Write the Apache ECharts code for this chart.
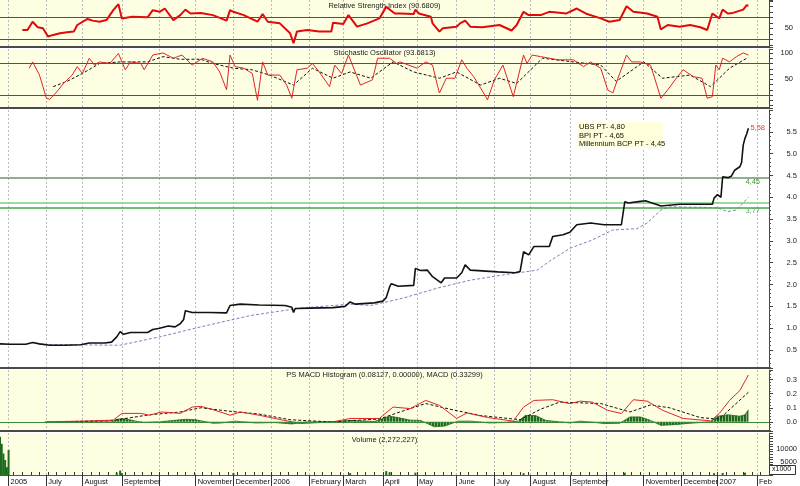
<!DOCTYPE html>
<html><head><meta charset="utf-8">
<script src="https://cdn.jsdelivr.net/npm/echarts@6/dist/echarts.min.js"></script>
<style>html,body{margin:0;padding:0;background:#fff}#c{width:800px;height:486px}</style>
</head><body><div id="c"></div>
<script>
// ---------------- DATA ----------------
const firstSession = '2005-05-25';
const lastSession = '2007-02-12';

const tickMonths = ['2005-06','2005-07','2005-08','2005-09','2005-10','2005-11','2005-12','2006-01','2006-02','2006-03','2006-04','2006-05','2006-06','2006-07','2006-08','2006-09','2006-10','2006-11','2006-12','2007-01','2007-02'];
const tickLabels = ['2005','July','August','September','','November','December','2006','February','March','April','May','June','July','August','September','','November','December','2007','Feb'];

const priceDates = ['2005-05-25','2005-06-02','2005-06-15','2005-06-21','2005-06-27','2005-07-05','2005-07-18','2005-07-29','2005-08-05','2005-08-18','2005-08-24','2005-08-29','2005-08-31','2005-09-02','2005-09-08','2005-09-22','2005-09-27','2005-10-03','2005-10-10','2005-10-14','2005-10-19','2005-10-21','2005-10-24','2005-10-28','2005-11-11','2005-11-25','2005-11-29','2005-12-07','2005-12-22','2006-01-12','2006-01-18','2006-01-19','2006-01-20','2006-02-02','2006-02-21','2006-03-02','2006-03-07','2006-03-10','2006-03-27','2006-04-03','2006-04-05','2006-04-07','2006-04-10','2006-04-14','2006-04-27','2006-04-28','2006-05-03','2006-05-09','2006-05-12','2006-05-19','2006-05-23','2006-06-01','2006-06-06','2006-06-08','2006-06-13','2006-07-05','2006-07-19','2006-07-24','2006-07-26','2006-07-31','2006-08-03','2006-08-16','2006-08-18','2006-08-28','2006-09-01','2006-09-07','2006-09-19','2006-09-29','2006-10-13','2006-10-17','2006-10-19','2006-10-27','2006-11-02','2006-11-07','2006-11-13','2006-11-15','2006-11-30','2006-12-18','2006-12-27','2006-12-28','2007-01-01','2007-01-03','2007-01-04','2007-01-09','2007-01-11','2007-01-15','2007-01-18','2007-01-19','2007-01-22','2007-01-23','2007-01-24','2007-01-25'];
const priceValues = [0.64,0.63,0.63,0.67,0.64,0.61,0.61,0.62,0.66,0.66,0.68,0.80,0.92,0.86,0.90,0.90,0.97,1.00,1.05,1.03,1.10,1.20,1.40,1.36,1.36,1.35,1.52,1.55,1.53,1.52,1.48,1.36,1.45,1.46,1.47,1.50,1.60,1.55,1.58,1.62,1.70,1.95,2.02,1.96,1.98,2.37,2.32,2.33,2.18,2.04,2.15,2.15,2.27,2.45,2.33,2.29,2.27,2.30,2.75,2.68,2.87,2.87,3.10,3.14,3.20,3.37,3.41,3.37,3.37,3.90,3.87,3.90,3.92,3.88,3.83,3.80,3.84,3.84,3.84,3.98,4.06,4.00,4.47,4.45,4.48,4.62,4.70,4.79,5.20,5.35,5.45,5.58];

const maDates = ['2005-06-27','2005-08-23','2005-08-31','2005-10-03','2005-11-04','2005-12-15','2006-01-25','2006-03-07','2006-03-23','2006-04-19','2006-05-17','2006-06-13','2006-07-10','2006-08-07','2006-08-16','2006-09-01','2006-09-20','2006-10-06','2006-10-26','2006-11-03','2006-11-15','2006-11-22','2006-12-18','2007-01-01','2007-01-09','2007-01-16','2007-01-22','2007-01-25'];
const maValues = [0.63,0.61,0.61,0.80,1.03,1.29,1.46,1.55,1.52,1.69,1.92,2.10,2.22,2.33,2.53,2.83,3.02,3.25,3.28,3.41,3.71,3.78,3.77,3.76,3.67,3.71,3.87,4.00];

const rsiDates = ['2005-06-13','2005-06-16','2005-06-21','2005-06-24','2005-06-29','2005-07-04','2005-07-07','2005-07-13','2005-07-19','2005-07-25','2005-07-27','2005-08-04','2005-08-09','2005-08-15','2005-08-19','2005-08-25','2005-08-30','2005-09-01','2005-09-09','2005-09-22','2005-09-27','2005-10-03','2005-10-06','2005-10-13','2005-10-19','2005-10-24','2005-10-27','2005-11-04','2005-11-15','2005-11-25','2005-11-29','2005-12-01','2005-12-09','2005-12-21','2005-12-26','2005-12-29','2006-01-09','2006-01-17','2006-01-19','2006-01-23','2006-01-31','2006-02-09','2006-02-20','2006-02-21','2006-03-01','2006-03-06','2006-03-13','2006-03-21','2006-03-30','2006-04-05','2006-04-12','2006-04-17','2006-04-27','2006-04-28','2006-05-02','2006-05-11','2006-05-12','2006-05-18','2006-05-22','2006-06-01','2006-06-05','2006-06-08','2006-06-13','2006-06-22','2006-07-06','2006-07-17','2006-07-20','2006-07-26','2006-07-31','2006-08-09','2006-08-16','2006-08-30','2006-09-07','2006-09-15','2006-09-27','2006-10-04','2006-10-12','2006-10-18','2006-10-24','2006-11-03','2006-11-13','2006-11-15','2006-11-21','2006-11-30','2006-12-08','2006-12-18','2006-12-22','2006-12-27','2007-01-02','2007-01-04','2007-01-09','2007-01-12','2007-01-22','2007-01-24','2007-01-25'];
const rsiValues = [47,47,62,52,50,35,38,41,43,44,56,67,64,62,65,83,94,68,71,70,83,80,86,65,74,84,77,78,74,64,83,80,74,62,76,62,59,41,23,44,47,44,44,60,58,74,53,59,68,89,77,77,76,84,77,71,59,44,50,53,59,64,53,52,56,46,56,80,74,74,80,77,86,76,68,62,65,90,80,77,71,48,56,53,56,52,47,77,68,84,77,78,84,92,91];

const stochKDates = ['2005-06-17','2005-06-21','2005-06-27','2005-07-01','2005-07-05','2005-07-11','2005-07-15','2005-07-22','2005-07-27','2005-08-01','2005-08-05','2005-08-10','2005-08-15','2005-08-23','2005-08-30','2005-09-05','2005-09-08','2005-09-16','2005-09-20','2005-09-27','2005-10-05','2005-10-13','2005-10-20','2005-10-28','2005-11-07','2005-11-15','2005-11-21','2005-11-25','2005-11-29','2005-12-02','2005-12-09','2005-12-16','2005-12-21','2005-12-26','2005-12-29','2006-01-09','2006-01-13','2006-01-18','2006-01-23','2006-01-31','2006-02-03','2006-02-09','2006-02-17','2006-02-22','2006-02-28','2006-03-06','2006-03-15','2006-03-24','2006-03-29','2006-04-07','2006-04-13','2006-04-17','2006-05-01','2006-05-08','2006-05-12','2006-05-17','2006-05-18','2006-05-24','2006-05-31','2006-06-06','2006-06-09','2006-06-15','2006-06-26','2006-06-27','2006-07-03','2006-07-10','2006-07-18','2006-07-26','2006-07-28','2006-08-02','2006-08-09','2006-08-23','2006-09-05','2006-09-13','2006-09-19','2006-09-27','2006-10-03','2006-10-06','2006-10-12','2006-10-18','2006-10-23','2006-10-30','2006-11-07','2006-11-15','2006-11-21','2006-11-28','2006-12-04','2006-12-12','2006-12-19','2006-12-22','2006-12-27','2006-12-29','2007-01-02','2007-01-04','2007-01-10','2007-01-16','2007-01-22','2007-01-25'];
const stochKValues = [71,83,58,14,12,26,42,58,74,61,90,77,83,80,99,68,83,80,68,96,100,90,96,77,90,83,64,30,96,74,71,61,10,83,58,58,39,14,68,71,80,64,36,77,61,96,39,49,90,90,80,83,71,83,77,36,24,52,52,87,71,55,17,11,49,77,17,96,80,96,93,87,87,74,83,71,30,24,61,96,83,83,77,14,30,52,68,55,52,14,17,77,68,90,83,93,100,96];

const stochDDates = ['2005-07-07','2005-07-19','2005-08-01','2005-08-15','2005-08-31','2005-09-22','2005-10-05','2005-10-19','2005-11-04','2005-11-15','2005-12-01','2005-12-16','2005-12-30','2006-01-19','2006-02-03','2006-02-21','2006-03-07','2006-03-23','2006-04-11','2006-04-27','2006-05-18','2006-06-01','2006-06-21','2006-07-06','2006-07-20','2006-08-10','2006-09-05','2006-09-27','2006-10-10','2006-11-01','2006-11-16','2006-12-08','2006-12-26','2007-01-10','2007-01-24'];
const stochDValues = [36,46,61,80,83,83,93,88,88,80,71,68,58,39,71,52,64,52,83,64,52,64,39,52,42,90,83,77,46,83,52,58,36,71,90];

const macdDates = ['2005-07-01','2005-07-29','2005-08-25','2005-09-01','2005-09-16','2005-09-23','2005-10-04','2005-10-19','2005-10-28','2005-11-04','2005-11-15','2005-11-29','2005-12-07','2005-12-22','2006-01-11','2006-01-25','2006-02-21','2006-03-07','2006-03-30','2006-04-11','2006-04-25','2006-05-08','2006-05-18','2006-06-01','2006-06-09','2006-06-27','2006-07-18','2006-07-26','2006-08-03','2006-08-18','2006-09-01','2006-09-11','2006-09-20','2006-10-03','2006-10-13','2006-10-24','2006-11-03','2006-11-16','2006-12-04','2006-12-26','2007-01-02','2007-01-10','2007-01-18','2007-01-25'];
const macdValues = [0.0,0.005,0.012,0.06,0.06,0.047,0.07,0.06,0.105,0.11,0.087,0.047,0.07,0.047,0.012,-0.012,0.0,0.024,0.024,0.105,0.094,0.152,0.117,0.024,0.063,0.031,0.005,0.105,0.152,0.157,0.129,0.147,0.14,0.082,0.059,0.157,0.147,0.082,0.024,0.007,0.059,0.152,0.222,0.333];

const signalDates = ['2005-07-13','2005-08-23','2005-09-01','2005-09-23','2005-10-19','2005-11-04','2005-11-29','2005-12-22','2006-01-17','2006-02-17','2006-03-30','2006-04-17','2006-05-08','2006-05-26','2006-06-21','2006-07-24','2006-08-09','2006-08-24','2006-09-27','2006-10-20','2006-11-07','2006-11-22','2006-12-18','2007-01-02','2007-01-25'];
const signalValues = [0.0,0.008,0.02,0.05,0.07,0.10,0.075,0.055,0.015,0.0,0.02,0.07,0.13,0.09,0.045,0.015,0.09,0.14,0.13,0.07,0.12,0.10,0.03,0.02,0.21];

const histDates = ['2005-06-30','2005-08-24','2005-08-30','2005-09-05','2005-09-13','2005-09-20','2005-10-03','2005-10-24','2005-11-01','2005-11-15','2005-11-22','2005-12-02','2005-12-20','2006-01-04','2006-01-18','2006-01-30','2006-02-27','2006-03-07','2006-03-27','2006-04-07','2006-04-14','2006-04-25','2006-05-03','2006-05-15','2006-05-23','2006-06-02','2006-06-13','2006-06-28','2006-07-11','2006-07-21','2006-07-27','2006-08-04','2006-08-14','2006-08-24','2006-09-01','2006-09-11','2006-09-22','2006-09-29','2006-10-12','2006-10-20','2006-10-30','2006-11-07','2006-11-15','2006-11-27','2006-12-08','2006-12-26','2007-01-01','2007-01-09','2007-01-18','2007-01-23','2007-01-25'];
const histValues = [0,0,0.02,0.022,0.005,-0.005,0,0.018,0.015,-0.01,-0.008,0.005,-0.008,-0.005,-0.015,-0.002,0.003,0.01,0.002,0.04,0.03,0.012,0.01,-0.035,-0.03,0.005,0.005,-0.008,-0.005,0.005,0.045,0.045,0.01,0,-0.008,0.005,-0.005,-0.012,-0.01,0.035,0.035,0.01,-0.025,-0.02,-0.01,0,0.04,0.05,0.04,0.05,0.085];

const volumeDates = ['2005-05-25','2005-05-26','2005-05-27','2005-05-30','2005-05-31','2005-06-01','2005-08-29','2005-08-31','2005-09-01','2005-12-01','2006-03-07','2006-04-05','2006-04-07','2006-04-28','2006-07-26','2006-10-17','2006-12-28','2007-01-04','2007-01-23'];
const volumeValues = [14700,12000,8300,5800,3000,9600,900,1700,700,800,700,1500,1100,900,700,900,700,800,900];

const rsiBands = [70, 30];
const stochBands = [80, 20];
const targetLevels = [4.45, 3.88, 3.77];
const targetLabels = ['4,45', '', '3,77'];
const lastPriceLabel = '5,58';
const analystNotes = ['UBS PT- 4,80', 'BPI PT - 4,65', 'Millennium BCP PT - 4,45'];
const panelTitles = ['Relative Strength Index (90.6809)', 'Stochastic Oscillator (93.6813)', 'PS MACD Histogram (0.08127, 0.00000), MACD (0.33299)', 'Volume (2,272,227)'];

// ---------------- BUILD ----------------
const days = [];
for (let t = Date.parse(firstSession + 'T00:00:00Z'); t <= Date.parse(lastSession + 'T00:00:00Z'); t += 86400000) {
  const d = new Date(t), w = d.getUTCDay();
  if (w !== 0 && w !== 6) days.push(d.toISOString().slice(0, 10));
}
const dayIndex = new Map(days.map((d, i) => [d, i]));
function snap(d) {
  let t = Date.parse(d + 'T00:00:00Z');
  for (let k = 0; k < 5 && !dayIndex.has(new Date(t).toISOString().slice(0, 10)); k++) t -= 86400000;
  return new Date(t).toISOString().slice(0, 10);
}
const pairs = (ds, vs) => ds.map((d, i) => [snap(d), vs[i]]);
const isMonthStart = (i) => i > 0 && days[i].slice(0, 7) !== days[i - 1].slice(0, 7);
const isMonday = (i) => new Date(days[i] + 'T00:00:00Z').getUTCDay() === 1;
const monthLabel = (v) => { const k = tickMonths.indexOf(String(v).slice(0, 7)); return k >= 0 ? tickLabels[k] : ''; };

const FONT = '"Liberation Sans", Arial, sans-serif';
const FS = 7.5;
const CREAM = '#FEFEE2';
const near = (v, step) => Math.abs(v / step - Math.round(v / step)) < 1e-6;

const gridDefs = [[0, 47, CREAM], [49, 59, CREAM], [110, 258, '#FFFFFF'], [370, 61, CREAM], [433, 42, CREAM]];
const grid = gridDefs.map(g => ({ left: 0, right: 31, top: g[0], height: g[1], show: true, backgroundColor: g[2], borderWidth: 0 }));

const xAxis = gridDefs.map((g, gi) => ({
  type: 'category', gridIndex: gi, data: days, boundaryGap: false,
  axisLine: { show: true, onZero: false, lineStyle: { color: gi === 4 ? '#555' : '#4a4a4a', width: gi === 4 ? 1 : 2 } },
  axisTick: gi === 4 ? { show: true, interval: (i) => isMonthStart(i), length: 11, lineStyle: { color: '#333' } } : { show: false },
  axisLabel: gi === 4 ? { show: true, interval: (i) => isMonthStart(i), formatter: (v) => monthLabel(v), align: 'left', padding: [0, 0, 0, 2], margin: 3, fontSize: FS, fontFamily: FONT, color: '#111' } : { show: false },
  splitLine: { show: true, interval: (i) => isMonthStart(i), lineStyle: { color: '#bcbcbc', type: [2, 2], width: 1 } }
}));
xAxis.push({
  type: 'category', gridIndex: 4, data: days, boundaryGap: false, position: 'bottom',
  axisLine: { show: false }, axisLabel: { show: false }, splitLine: { show: false },
  axisTick: { show: true, inside: true, length: 3, interval: (i) => isMonday(i), lineStyle: { color: '#333' } }
});

function yAx(gi, min, max, split, fmt, margin, minor) {
  return {
    type: 'value', gridIndex: gi, position: 'right', min, max, splitNumber: split,
    axisLine: { show: true, onZero: false, lineStyle: { color: '#444' } },
    axisTick: { show: true, length: 4, lineStyle: { color: '#444' } },
    minorTick: { show: !!minor, splitNumber: minor || 5, length: 2, lineStyle: { color: '#555' } },
    splitLine: { show: false },
    axisLabel: { formatter: fmt, align: 'right', margin, fontSize: FS, fontFamily: FONT, color: '#222', showMinLabel: true, showMaxLabel: true }
  };
}
const yAxis = [
  yAx(0, 16, 101.5, 8, (v) => near(v - 50, 1) && Math.round(v) === 50 ? '50' : '', 24),
  yAx(1, -4.5, 107.5, 11, (v) => (Math.round(v) === 50 || Math.round(v) === 100) && near(v, 10) ? String(Math.round(v)) : '', 24),
  yAx(2, 0.087, 6.0, 12, (v) => (v > 0.4 && v < 5.6 && near(v, 0.5)) ? (Math.round(v * 10) / 10).toFixed(1) : '', 28, 5),
  yAx(3, -0.065, 0.368, 5, (v) => (v > -0.01 && v < 0.35 && near(v, 0.1)) ? (Math.round(v * 10) / 10).toFixed(1) : '', 28, 5),
  yAx(4, 0, 16150, 16, (v) => (Math.round(v) === 5000 || Math.round(v) === 10000) ? String(Math.round(v)) : '', 28)
];

function bands(vals, color) {
  return { silent: true, symbol: 'none', animation: false, label: { show: false },
    lineStyle: { color, width: 1, type: 'solid' }, data: vals.map(v => ({ yAxis: v })) };
}

// stripe pattern for histogram
const pat = document.createElement('canvas'); pat.width = 3; pat.height = 4;
const pc = pat.getContext('2d'); pc.fillStyle = '#1c6a1c'; pc.fillRect(0, 0, 2, 4); pc.fillStyle = '#8fb07a'; pc.fillRect(2, 0, 1, 4);

const targetColors = ['#6d936d', '#78d07c', '#47a447'];
const targetTextColors = ['#3f9a2e', '', '#5aaa6a'];

const series = [
  { type: 'line', xAxisIndex: 0, yAxisIndex: 0, data: pairs(rsiDates, rsiValues), symbol: 'none', lineStyle: { color: '#e00a0a', width: 2 }, itemStyle: { color: '#e00a0a' }, markLine: bands(rsiBands, '#2f6a2f'), z: 3 },
  { type: 'line', xAxisIndex: 1, yAxisIndex: 1, data: pairs(stochDDates, stochDValues), symbol: 'none', lineStyle: { color: '#111', width: 1, type: [3, 2] }, markLine: bands(stochBands, '#2f6a2f'), z: 3 },
  { type: 'line', xAxisIndex: 1, yAxisIndex: 1, data: pairs(stochKDates, stochKValues), symbol: 'none', lineStyle: { color: '#e02525', width: 1 }, z: 4 },
  { type: 'line', xAxisIndex: 2, yAxisIndex: 2, data: pairs(maDates, maValues), symbol: 'none', lineStyle: { color: '#7f7fbf', width: 1, type: [3, 2] }, z: 3 },
  { type: 'line', xAxisIndex: 2, yAxisIndex: 2, data: pairs(priceDates, priceValues), symbol: 'none', lineStyle: { color: '#111', width: 1.6 }, itemStyle: { color: '#111' }, z: 5,
    endLabel: { show: true, formatter: () => lastPriceLabel, color: '#e83a3a', fontSize: FS, fontFamily: FONT, distance: 2 },
    markLine: { silent: true, symbol: 'none', animation: false,
      data: targetLevels.map((v, i) => ({ yAxis: v, lineStyle: { color: targetColors[i], width: 1.5, type: 'solid' },
        label: { show: !!targetLabels[i], formatter: targetLabels[i], position: 'insideEndBottom', distance: [9, 0], color: targetTextColors[i] || '#000', fontSize: FS, fontFamily: FONT } })) } },
  { type: 'line', xAxisIndex: 3, yAxisIndex: 3, data: pairs(histDates, histValues), symbol: 'none', lineStyle: { color: '#1c6a1c', width: 0.8 }, areaStyle: { color: { image: pat, repeat: 'repeat' }, opacity: 1 },
    markLine: bands([0], '#3a8a3a'), z: 2 },
  { type: 'line', xAxisIndex: 3, yAxisIndex: 3, data: pairs(signalDates, signalValues), symbol: 'none', lineStyle: { color: '#111', width: 1, type: [3, 2] }, z: 3 },
  { type: 'line', xAxisIndex: 3, yAxisIndex: 3, data: pairs(macdDates, macdValues), symbol: 'none', lineStyle: { color: '#e02525', width: 1 }, z: 4 },
  { type: 'bar', xAxisIndex: 4, yAxisIndex: 4, data: pairs(volumeDates, volumeValues), barWidth: 2, itemStyle: { color: '#1c6a1c' }, z: 3 }
];

const titleTops = [2, 49, 370.5, 436];
const title = panelTitles.map((t, i) => ({ text: t, left: 384.5, top: titleTops[i], textAlign: 'center', padding: 0,
  textStyle: { fontSize: FS, fontWeight: 'normal', color: '#1a1a1a', fontFamily: FONT } }));

const graphic = [
  { type: 'rect', left: 577, top: 122, shape: { width: 86, height: 26 }, style: { fill: '#FFFFDC' }, z: 10 },
  ...analystNotes.map((t, i) => ({ type: 'text', left: 579, top: 123 + i * 8.6, style: { text: t, fill: '#111', font: FS + 'px ' + FONT }, z: 11 })),
  { type: 'rect', left: 769, top: 465, shape: { width: 26, height: 9 }, style: { fill: '#fff', stroke: '#333', lineWidth: 1 }, z: 10 },
  { type: 'text', left: 772, top: 466, style: { text: 'x1000', fill: '#111', font: '7px ' + FONT }, z: 11 }
];

const chart = echarts.init(document.getElementById('c'), null, { renderer: 'canvas' });
chart.setOption({ animation: false, backgroundColor: '#ffffff', title, grid, xAxis, yAxis, series, graphic });
</script>
</body></html>
